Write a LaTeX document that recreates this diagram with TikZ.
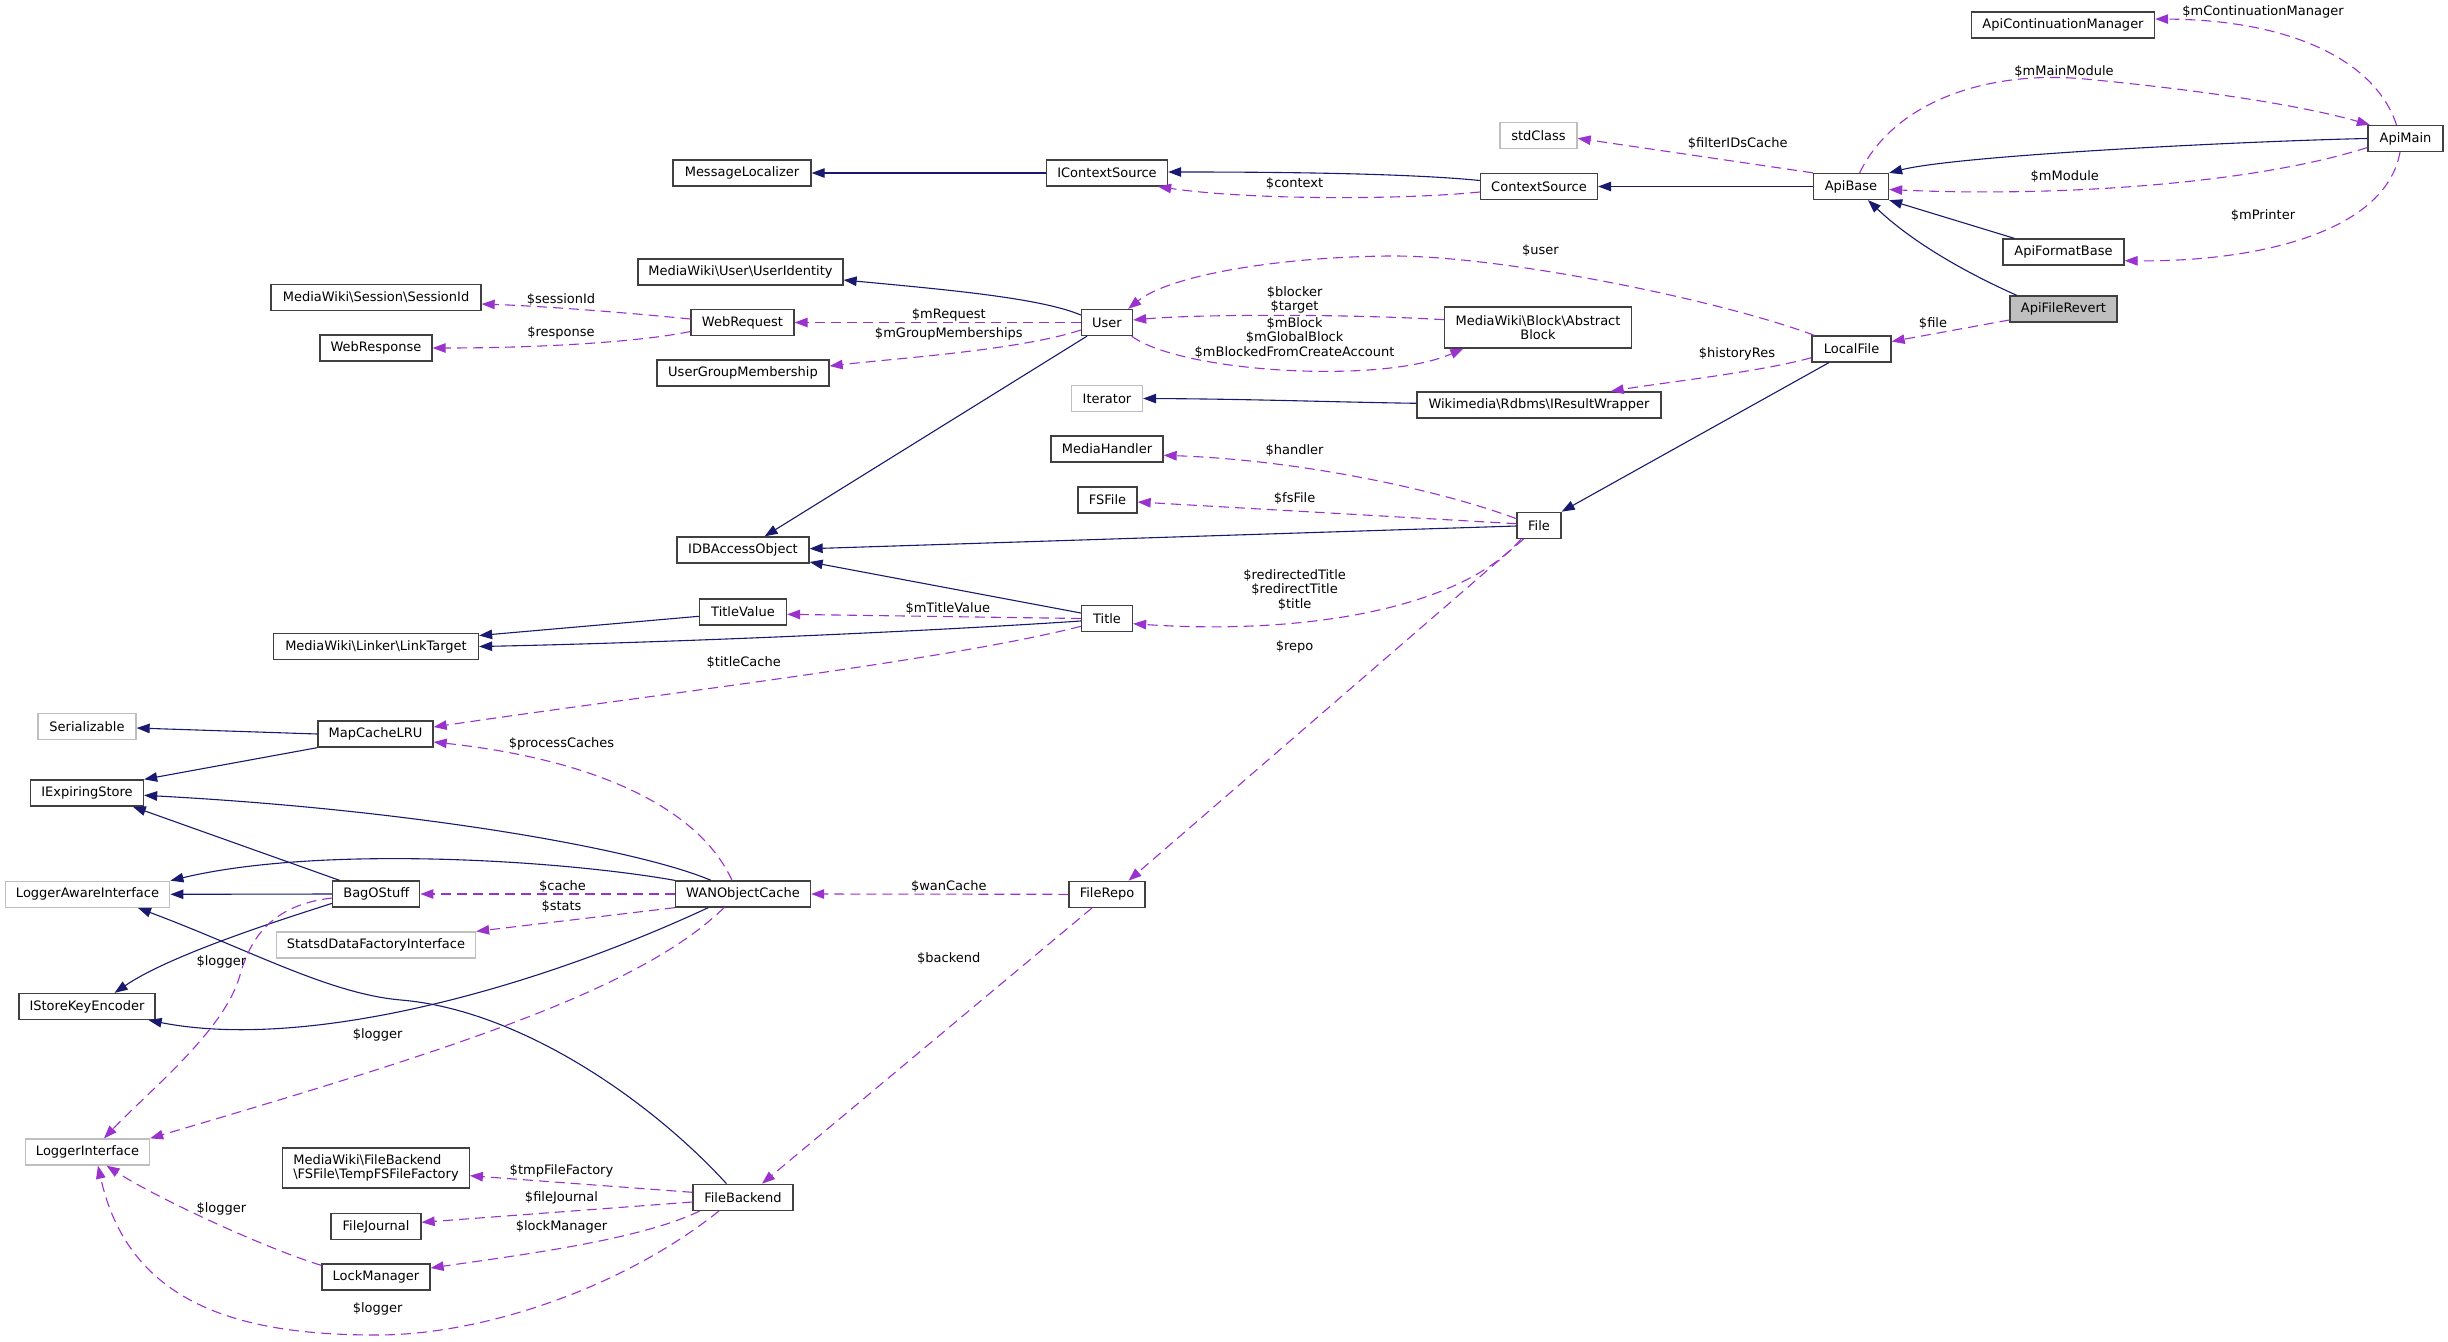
\documentclass[tikz,border=0pt]{standalone}
\usepackage{fontspec}
\setmainfont{DejaVu Sans}
\usetikzlibrary{arrows.meta}
\definecolor{navy}{HTML}{191970}
\definecolor{purp}{HTML}{9A32CD}
\definecolor{gbord}{HTML}{BFBFBF}
\definecolor{bord}{HTML}{404040}
\newcommand\dgf{\fontsize{13}{14.6}\selectfont}
\newcommand\bs{\textbackslash}
\begin{document}
\begin{tikzpicture}[x=1pt,y=-1pt,
  cls/.style={draw=bord, line width=1.3pt, fill=white, minimum height=26pt, inner sep=1pt, font=\dgf, text=black},
  ext/.style={cls, draw=gbord},
  inh/.style={draw=navy, line width=1.1pt, -{Triangle[length=13pt,width=9.5pt]}},
  use/.style={draw=purp, line width=1.1pt, dash pattern=on 10pt off 6pt, -{Triangle[length=13pt,width=9.5pt]}},
  lbl/.style={font=\dgf, inner sep=0pt, align=center, text=black}]
\fill[white] (0,0) rectangle (2448,1341);
\useasboundingbox (0,0) rectangle (2448,1341);

% nodes
\node[cls, minimum width=138pt] (MessageLocalizer) at (742,173) {MessageLocalizer};
\node[cls, minimum width=121pt] (IContextSource) at (1107,173) {IContextSource};
\node[cls, minimum width=117pt] (ContextSource) at (1539,186.5) {ContextSource};
\node[ext, minimum width=77pt] (stdClass) at (1538.5,135.7) {stdClass};
\node[cls, minimum width=75pt] (ApiBase) at (1851,186.5) {ApiBase};
\node[cls, minimum width=183pt] (ApiContinuationManager) at (2063,25) {ApiContinuationManager};
\node[cls, minimum width=75pt] (ApiMain) at (2405.5,138.5) {ApiMain};
\node[cls, minimum width=121pt] (ApiFormatBase) at (2063.5,252) {ApiFormatBase};
\node[cls, minimum width=107pt, fill=gbord] (ApiFileRevert) at (2063.5,309) {ApiFileRevert};
\node[cls, minimum width=79pt] (LocalFile) at (1851.5,349) {LocalFile};
\node[cls, minimum width=205pt] (UserIdentity) at (740.5,272) {MediaWiki\bs User\bs UserIdentity};
\node[cls, minimum width=210pt] (SessionId) at (376,297.5) {MediaWiki\bs Session\bs SessionId};
\node[cls, minimum width=103pt] (WebRequest) at (742.5,322.5) {WebRequest};
\node[cls, minimum width=112pt] (WebResponse) at (376,348) {WebResponse};
\node[cls, minimum width=51pt] (User) at (1107,322.5) {User};
\node[cls, minimum width=172pt] (UserGroupMembership) at (743,373) {UserGroupMembership};
\node[cls, minimum width=187pt, minimum height=41pt, align=center] (AbstractBlock) at (1538,327.5) {MediaWiki\bs Block\bs Abstract\\Block};
\node[ext, minimum width=71pt] (Iterator) at (1107,398.5) {Iterator};
\node[cls, minimum width=244pt] (IResultWrapper) at (1539,405) {Wikimedia\bs Rdbms\bs IResultWrapper};
\node[cls, minimum width=112pt] (MediaHandler) at (1107,449) {MediaHandler};
\node[cls, minimum width=59pt] (FSFile) at (1107.5,500) {FSFile};
\node[cls, minimum width=44pt] (File) at (1539,525.3) {File};
\node[cls, minimum width=132pt] (IDBAccessObject) at (743,550) {IDBAccessObject};
\node[cls, minimum width=87pt] (TitleValue) at (743,612) {TitleValue};
\node[cls, minimum width=51pt] (Title) at (1107,618.5) {Title};
\node[cls, minimum width=205pt] (LinkTarget) at (376,646.5) {MediaWiki\bs Linker\bs LinkTarget};
\node[ext, minimum width=98pt] (Serializable) at (87,726.5) {Serializable};
\node[cls, minimum width=115pt] (MapCacheLRU) at (375.5,734) {MapCacheLRU};
\node[cls, minimum width=113pt] (IExpiringStore) at (87,793) {IExpiringStore};
\node[ext, minimum width=164.6pt] (LoggerAwareInterface) at (87.5,894.3) {LoggerAwareInterface};
\node[cls, minimum width=87pt] (BagOStuff) at (376.3,894) {BagOStuff};
\node[cls, minimum width=135pt] (WANObjectCache) at (743,894) {WANObjectCache};
\node[cls, minimum width=76pt] (FileRepo) at (1107,894.3) {FileRepo};
\node[ext, minimum width=199pt] (StatsdDataFactoryInterface) at (376,945) {StatsdDataFactoryInterface};
\node[cls, minimum width=136pt] (IStoreKeyEncoder) at (87,1006.5) {IStoreKeyEncoder};
\node[ext, minimum width=124pt] (LoggerInterface) at (87.5,1152) {LoggerInterface};
\node[cls, minimum width=186.5pt, minimum height=40pt, align=left] (TempFSFileFactory) at (376,1168) {MediaWiki\bs FileBackend\\\bs FSFile\bs TempFSFileFactory};
\node[cls, minimum width=100pt] (FileBackend) at (743,1197.3) {FileBackend};
\node[cls, minimum width=90pt] (FileJournal) at (376,1226.5) {FileJournal};
\node[cls, minimum width=108pt] (LockManager) at (376,1277) {LockManager};

% inheritance edges
\draw[inh] (IContextSource) -- (MessageLocalizer);
\draw[inh] ([yshift=6pt]ContextSource.west) .. controls (1400,172.5) and (1250,172) .. ([yshift=1pt]IContextSource.east);
\draw[inh] (ApiBase) -- (ContextSource);
\draw[inh] (ApiMain.west) .. controls (2250,141) and (1960,155) .. (ApiBase.north east);
\draw[inh] ([xshift=12pt]ApiFormatBase.north west) -- (ApiBase.south east);
\draw[inh] ([xshift=7.4pt]ApiFileRevert.north west) .. controls (1960,270) and (1910,240) .. ([xshift=17pt]ApiBase.south);
\draw[inh] ([yshift=7.5pt]User.west) .. controls (1040,298) and (950,290) .. ([yshift=-8pt]UserIdentity.east);
\draw[inh] ([xshift=-20pt]User.south) -- ([xshift=21.6pt]IDBAccessObject.north);
\draw[inh] ([yshift=1.7pt]IResultWrapper.west) .. controls (1330,402) and (1250,399) .. (Iterator.east);
\draw[inh] ([xshift=-22.6pt]LocalFile.south) -- (File.north east);
\draw[inh] ([yshift=-0.7pt]File.west) -- ([yshift=1.3pt]IDBAccessObject.east);
\draw[inh] ([yshift=5.5pt]Title.west) -- ([yshift=-12pt]IDBAccessObject.east);
\draw[inh] ([yshift=-2.5pt]Title.west) .. controls (900,633) and (650,643) .. (LinkTarget.east);
\draw[inh] ([yshift=-4.3pt]TitleValue.west) -- ([yshift=11pt]LinkTarget.east);
\draw[inh] (MapCacheLRU.west) -- ([yshift=-1.5pt]Serializable.east);
\draw[inh] (MapCacheLRU.south west) -- (IExpiringStore.north east);
\draw[inh] ([xshift=-32pt]WANObjectCache.north) .. controls (640,850) and (420,810) .. ([yshift=-2.3pt]IExpiringStore.east);
\draw[inh] ([xshift=-36.7pt]BagOStuff.north) -- ([xshift=45.8pt]IExpiringStore.south);
\draw[inh] (WANObjectCache.north west) .. controls (560,860) and (320,845) .. (LoggerAwareInterface.north east);
\draw[inh] (BagOStuff.west) -- (LoggerAwareInterface.east);
\draw[inh] ([yshift=-9.3pt]BagOStuff.west) .. controls (280,920) and (170,955) .. ([xshift=27.6pt]IStoreKeyEncoder.north);
\draw[inh] ([xshift=-34.7pt]WANObjectCache.south) .. controls (520,995) and (300,1050) .. ([xshift=-7pt]IStoreKeyEncoder.south east);
\draw[inh] ([xshift=-16.5pt]FileBackend.north) .. controls (650,1100) and (520,1010) .. (401,1000) .. controls (330,994) and (250,950) .. ([xshift=50.5pt]LoggerAwareInterface.south);

% usage edges
\draw[use] ([yshift=-5.5pt]ContextSource.west) .. controls (1400,200) and (1250,200) .. ([xshift=-10pt]IContextSource.south east);
\draw[use] ([xshift=8.6pt]ApiBase.north) .. controls (1895,100) and (1990,70) .. (2085,79) .. controls (2200,90) and (2300,105) .. ([xshift=2.5pt]ApiMain.north west);
\draw[use] ([xshift=-9pt]ApiMain.north) .. controls (2375,60) and (2290,20) .. ([yshift=6pt]ApiContinuationManager.east);
\draw[use] ([yshift=-9pt]ApiMain.west) .. controls (2250,185) and (2050,197) .. ([yshift=-3pt]ApiBase.east);
\draw[use] ([xshift=-5.5pt]ApiMain.south) .. controls (2385,235) and (2250,262) .. ([yshift=-8.7pt]ApiFormatBase.east);
\draw[use] (ApiBase.north west) -- ([yshift=-2.6pt]stdClass.east);
\draw[use] ([yshift=-11pt]ApiFileRevert.west) -- ([yshift=7.5pt]LocalFile.east);
\draw[use] ([xshift=3pt]LocalFile.north west) .. controls (1720,300) and (1500,255) .. (1389,256) .. controls (1280,257) and (1170,275) .. ([xshift=-5pt]User.north east);
\draw[use] ([yshift=7.8pt]AbstractBlock.west) .. controls (1350,314) and (1200,314) .. ([yshift=2.5pt]User.east);
\draw[use] ([xshift=-1.5pt]User.south east) .. controls (1180,372) and (1380,385) .. ([xshift=19.5pt]AbstractBlock.south west);
\draw[use] (User.west) -- (WebRequest.east);
\draw[use] ([yshift=-7.5pt]User.west) .. controls (1020,350) and (900,358) .. ([yshift=7pt]UserGroupMembership.east);
\draw[use] ([yshift=3.5pt]WebRequest.west) .. controls (620,312) and (540,306) .. ([yshift=-6.5pt]SessionId.east);
\draw[use] ([yshift=-9pt]WebRequest.west) .. controls (640,342) and (540,348) .. (WebResponse.east);
\draw[use] ([yshift=-8.7pt]LocalFile.west) .. controls (1760,372) and (1660,383) .. ([xshift=-51pt]IResultWrapper.north east);
\draw[use] ([yshift=6.6pt]File.west) .. controls (1440,490) and (1300,460) .. ([yshift=-6.3pt]MediaHandler.east);
\draw[use] ([yshift=1.6pt]File.west) -- ([yshift=-2pt]FSFile.east);
\draw[use] ([xshift=4.7pt]File.south west) .. controls (1460,610) and (1300,635) .. ([yshift=-5.2pt]Title.east);
\draw[use] ([xshift=7.3pt]File.south west) -- ([xshift=21.5pt]FileRepo.north);
\draw[use] (Title.west) -- ([yshift=-2.3pt]TitleValue.east);
\draw[use] ([yshift=-7.8pt]Title.west) .. controls (950,660) and (650,695) .. ([yshift=7pt]MapCacheLRU.east);
\draw[use] ([xshift=-11pt]WANObjectCache.north) .. controls (700,810) and (600,760) .. ([yshift=-8pt]MapCacheLRU.east);
\draw[use] (WANObjectCache.west) -- (BagOStuff.east);
\draw[use] (WANObjectCache.south west) -- (StatsdDataFactoryInterface.north east);
\draw[use] ([yshift=-4pt]BagOStuff.west) .. controls (270,905) and (250,940) .. (240,975) .. controls (225,1030) and (150,1090) .. ([xshift=16.5pt]LoggerInterface.north);
\draw[use] ([xshift=-19pt]WANObjectCache.south) .. controls (640,990) and (450,1050) .. (LoggerInterface.north east);
\draw[use] (FileRepo.west) -- (WANObjectCache.east);
\draw[use] ([xshift=-15pt]FileRepo.south) -- ([xshift=19pt]FileBackend.north);
\draw[use] ([yshift=5pt]FileBackend.west) -- ([yshift=-7.7pt]TempFSFileFactory.east);
\draw[use] ([yshift=-4.7pt]FileBackend.west) -- ([yshift=4.2pt]FileJournal.east);
\draw[use] ([xshift=7.5pt]FileBackend.south west) .. controls (640,1240) and (520,1255) .. ([yshift=9pt]LockManager.east);
\draw[use] ([yshift=-2pt]LockManager.north west) .. controls (270,1250) and (160,1200) .. ([xshift=19pt]LoggerInterface.south);
\draw[use] ([xshift=-24pt]FileBackend.south) .. controls (620,1290) and (480,1335) .. (377,1335) .. controls (250,1335) and (130,1310) .. ([xshift=10.5pt]LoggerInterface.south);

% labels
\node[lbl] (l01) at (2263,11.7) {\$mContinuationManager};
\node[lbl] (l02) at (2064,71.7) {\$mMainModule};
\node[lbl] (l03) at (1737.7,143.3) {\$filterIDsCache};
\node[lbl] (l04) at (2064.8,176.7) {\$mModule};
\node[lbl] (l05) at (2263,215.7) {\$mPrinter};
\node[lbl] (l06) at (1933,323.3) {\$file};
\node[lbl] (l07) at (1737,354.3) {\$historyRes};
\node[lbl] (l08) at (1294.6,183.7) {\$context};
\node[lbl] (l09) at (1540.5,250.7) {\$user};
\node[lbl] (l10) at (1294.6,300) {\$blocker\\\$target};
\node[lbl] (l11) at (1294.6,337.7) {\$mBlock\\\$mGlobalBlock\\\$mBlockedFromCreateAccount};
\node[lbl] (l12) at (948.8,314.7) {\$mRequest};
\node[lbl] (l13) at (948.8,334.3) {\$mGroupMemberships};
\node[lbl] (l14) at (561,300) {\$sessionId};
\node[lbl] (l15) at (561,333) {\$response};
\node[lbl] (l16) at (1294.6,451) {\$handler};
\node[lbl] (l17) at (1294.6,498.7) {\$fsFile};
\node[lbl] (l18) at (1294.6,590) {\$redirectedTitle\\\$redirectTitle\\\$title};
\node[lbl] (l19) at (947.8,608.7) {\$mTitleValue};
\node[lbl] (l20) at (1294.6,647) {\$repo};
\node[lbl] (l21) at (743.75,662.7) {\$titleCache};
\node[lbl] (l22) at (561.5,743.7) {\$processCaches};
\node[lbl] (l23) at (562.5,887) {\$cache};
\node[lbl] (l24) at (561.5,906.7) {\$stats};
\node[lbl] (l25) at (948.8,887) {\$wanCache};
\node[lbl] (l26) at (948.8,958.3) {\$backend};
\node[lbl] (l27) at (221.4,962.3) {\$logger};
\node[lbl] (l28) at (377.6,1034.7) {\$logger};
\node[lbl] (l29) at (561.5,1170.7) {\$tmpFileFactory};
\node[lbl] (l30) at (561.5,1198.3) {\$fileJournal};
\node[lbl] (l31) at (561.5,1226.7) {\$lockManager};
\node[lbl] (l32) at (221.4,1208.7) {\$logger};
\node[lbl] (l33) at (377.6,1309) {\$logger};
\end{tikzpicture}
\end{document}
